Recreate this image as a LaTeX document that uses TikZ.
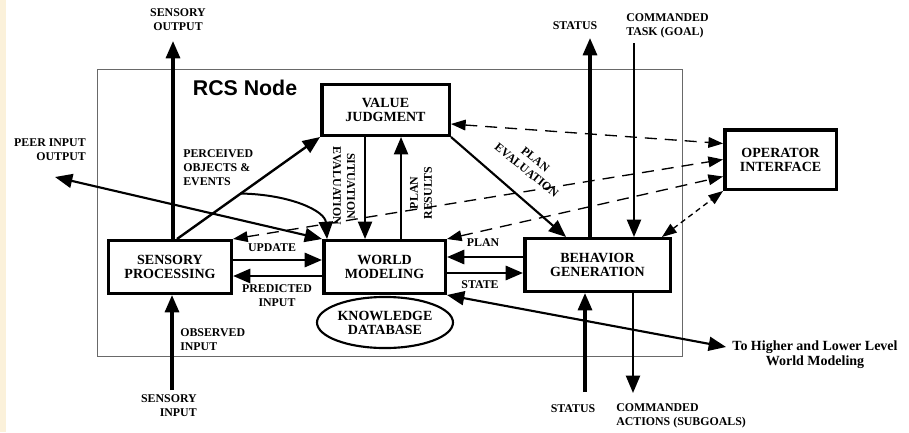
\documentclass[tikz,border=0pt]{standalone}
\usepackage{fontspec}
\setmainfont{Liberation Serif}
\newfontfamily\arialfont{Liberation Sans}
\usetikzlibrary{arrows.meta,calc,shapes.geometric}
\definecolor{cream}{RGB}{251,241,218}
\definecolor{framegray}{RGB}{105,105,105}
\begin{document}
\begin{tikzpicture}[x=0.75pt,y=-0.75pt,
  box/.style={draw,line width=2.6pt,inner sep=0pt,align=center,font=\fontsize{10.5}{10.5}\selectfont\bfseries},
  lbl/.style={inner sep=0pt,font=\fontsize{8.9}{10.5}\selectfont\bfseries},
  arr/.style={line width=2.2pt,-{Triangle[length=13pt,width=10.5pt]}},
  dbl/.style={line width=1.6pt,{Triangle[length=13pt,width=10.5pt]}-{Triangle[length=13pt,width=10.5pt]}},
  dsh/.style={line width=1pt,dash pattern=on 9pt off 6pt,{Triangle[length=11pt,width=8pt]}-{Triangle[length=11pt,width=8pt]}}]
\useasboundingbox (0,0) rectangle (909,432);
\fill[white] (0,0) rectangle (909,432);
\fill[cream] (0,0) rectangle (6,432);
% frame
\node[draw=framegray,line width=1.1pt,inner sep=0pt,minimum width=438.4pt,minimum height=214.9pt] (rcs) at (390,213) {};
\node[font=\arialfont\bfseries\fontsize{16}{18}\selectfont,inner sep=0pt] (lrcs) at (245,88) {RCS Node};
% boxes
\node[box,minimum width=95.6pt,minimum height=37.9pt] (vj) at (385.5,110) {VALUE\\JUDGMENT};
\node[box,minimum width=91.9pt,minimum height=39.4pt] (sp) at (170,267) {SENSORY\\PROCESSING};
\node[box,minimum width=91.1pt,minimum height=39.4pt] (wm) at (384.5,267) {WORLD\\MODELING};
\node[box,minimum width=109.1pt,minimum height=39.4pt] (bg) at (597.5,265) {BEHAVIOR\\GENERATION};
\node[box,minimum width=83.6pt,minimum height=44.6pt] (oi) at (780.5,159.5) {OPERATOR\\INTERFACE};
\node[ellipse,draw,line width=1.6pt,inner sep=0pt,minimum width=102pt,minimum height=38.3pt,align=center,font=\fontsize{10.5}{10.5}\selectfont\bfseries] (kd) at (385,322.5) {KNOWLEDGE\\DATABASE};
% free ends
\coordinate (so) at (173,41);
\coordinate (peer) at (55,177);
\coordinate (obs) at (172,390);
\coordinate (st) at (590,38);
\coordinate (ct) at (634,43);
\coordinate (sb) at (585,392);
\coordinate (ca) at (633,393);
\coordinate (hl) at (726,347);
% arrows
\draw[arr,line width=2.4pt] (sp.north -| so) -- (so);
\coordinate (pa) at ($(sp.north west)+(70,0)$);
\draw[arr,line width=1.8pt] (pa) -- (vj.south west);
\coordinate (pb) at ($(pa)!0.446!(vj.south west)$);
\draw[arr,line width=1.5pt] (pb) .. controls ($(pb)+(50,1)$) and ($(wm.north west)+(3,-28)$) .. ($(wm.north west)+(5,0)$);
\draw[dbl] (peer) -- (wm.north west);
\draw[arr] ($(sp.east)+(0,-7)$) -- ($(wm.west)+(0,-7)$);
\draw[arr] ($(wm.west)+(0,9)$) -- ($(sp.east)+(0,9)$);
\draw[arr,line width=2.4pt] (obs) -- (obs |- sp.south);
\coordinate (se) at ($(vj.south west)+(45,0)$);
\draw[arr,line width=1.6pt] (se) -- (se |- wm.north);
\coordinate (pr) at ($(wm.north west)+(79,0)$);
\draw[arr,line width=1.6pt] (pr) -- (pr |- vj.south);
\draw[arr,line width=1.6pt] (vj.south east) -- ($(bg.north west)+(43,0)$);
\coordinate (pl) at ($(bg.west)+(0,-8)$);
\draw[arr] (pl) -- (pl -| wm.east);
\coordinate (sta) at ($(wm.east)+(0,6)$);
\draw[arr] (sta) -- (sta -| bg.west);
\draw[arr,line width=2.4pt] (bg.north -| st) -- (st);
\draw[arr,line width=1.6pt] (ct) -- (ct |- bg.north);
\draw[arr,line width=2.4pt] (sb) -- (sb |- bg.south);
\draw[arr,line width=1.6pt] (ca |- bg.south) -- (ca);
\draw[dbl] (wm.south east) -- (hl);
% dashed
\draw[dsh] ($(vj.east)+(0,14)$) -- ($(oi.west)+(0,-16)$);
\draw[dsh] (sp.north east) -- (oi.west);
\draw[dsh] (wm.north east) -- ($(oi.west)+(0,17)$);
\draw[dsh,dash pattern=on 4pt off 3pt] ($(bg.north east)+(-10,0)$) -- (oi.south west);
% labels
\node[lbl,align=center] (lso) at (178,20) {SENSORY\\OUTPUT};
\node[lbl,align=right,anchor=east] (lpeer) at (86,150) {PEER INPUT\\OUTPUT};
\node[lbl,align=left,anchor=west] (lpo) at (183,168) {PERCEIVED\\OBJECTS \&\\EVENTS};
\node[lbl,align=center,rotate=-90] (lse) at (344,186) {SITUATION\\EVALUATION};
\node[lbl,align=center,rotate=90] (lpr) at (421,193) {PLAN\\RESULTS};
\node[lbl,align=center,rotate=-39] (lpe) at (531,165) {PLAN\\EVALUATION};
\node[lbl] (lup) at (272,248) {UPDATE};
\node[lbl,align=center] (lpi) at (277,296) {PREDICTED\\INPUT};
\node[lbl,align=left,anchor=west] (lobs) at (180,340) {OBSERVED\\INPUT};
\node[lbl,align=right,anchor=east] (lsi) at (197,406) {SENSORY\\INPUT};
\node[lbl] (lplan) at (483,243) {PLAN};
\node[lbl] (lstate) at (480,285) {STATE};
\node[lbl] (lst) at (575,26) {STATUS};
\node[lbl,align=left,anchor=west] (lct) at (626,26) {COMMANDED\\TASK (GOAL)};
\node[lbl] (lsb) at (573,409) {STATUS};
\node[lbl,align=left,anchor=west] (lca) at (616,416) {COMMANDED\\ACTIONS (SUBGOALS)};
\node[lbl,align=center,font=\fontsize{10.5}{11.3}\selectfont\bfseries] (lhl) at (815,355) {To Higher and Lower Level\\World Modeling};
\end{tikzpicture}
\end{document}
